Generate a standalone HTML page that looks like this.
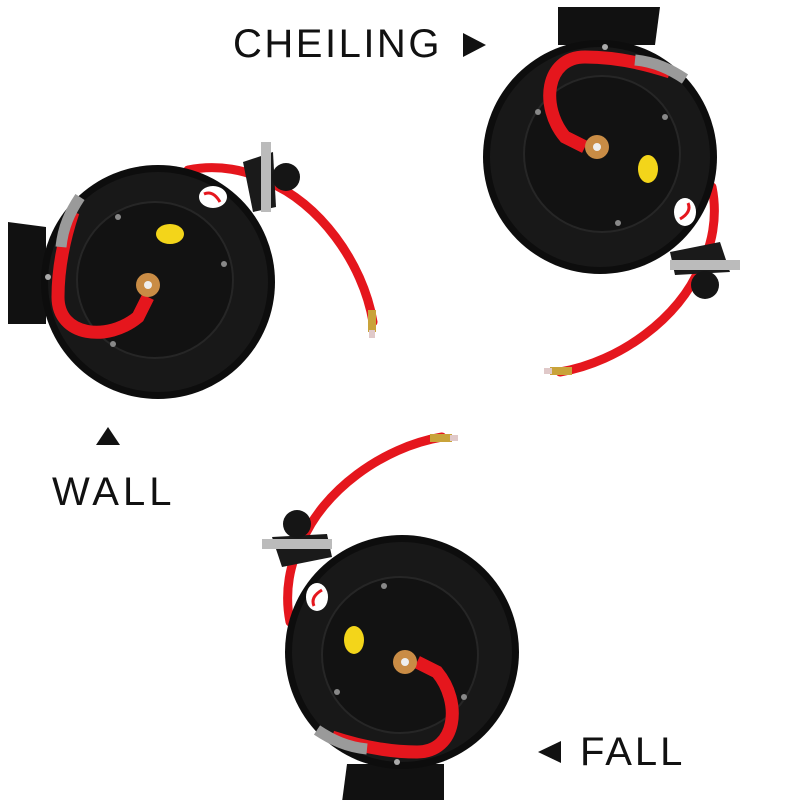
<!DOCTYPE html>
<html><head><style>
html,body{margin:0;padding:0;background:#fff;}
body{width:800px;height:800px;position:relative;overflow:hidden;font-family:"Liberation Sans",sans-serif;}
.t{position:absolute;color:#111;font-size:40px;letter-spacing:2.5px;}
</style></head><body>
<svg width="800" height="800" style="position:absolute;left:0;top:0">
<defs>
<g id="reel">
  <path d="M-150,-60 L-112,-55 L-112,42 L-150,42 Z" fill="#111"/>
  <path d="M30,-112 C60,-118 90,-112 110,-100 C160,-80 205,-20 215,40" fill="none" stroke="#e5161d" stroke-width="9" stroke-linecap="round"/>
  <path d="M85,-120 L115,-130 L118,-75 L95,-70 Z" fill="#1a1a1a"/>
  <rect x="103" y="-140" width="10" height="70" fill="#bbb"/>
  <circle cx="128" cy="-105" r="14" fill="#151515"/>
  <rect x="210" y="28" width="8" height="22" fill="#c9a33a"/>
  <rect x="211" y="48" width="6" height="8" fill="#e0c9c9"/>
  <circle cx="0" cy="0" r="117" fill="#0d0d0d"/>
  <circle cx="0" cy="0" r="110" fill="#181818"/>
  <circle cx="-3" cy="-2" r="78" fill="#121212" stroke="#262626" stroke-width="2"/>
  <path d="M-85,-70 C-95,-40 -100,-10 -100,15 C-100,55 -50,60 -20,35 L-10,15" fill="none" stroke="#e5161d" stroke-width="13"/>
  <path d="M-78,-85 C-88,-70 -95,-55 -97,-35" fill="none" stroke="#9a9a9a" stroke-width="11"/>
  <circle cx="-10" cy="3" r="12" fill="#c98c45"/>
  <circle cx="-10" cy="3" r="4" fill="#eee"/>
  <ellipse cx="12" cy="-48" rx="14" ry="10" fill="#f3d51a"/>
  <ellipse cx="55" cy="-85" rx="14" ry="11" fill="#fff"/>
  <path d="M46,-88 Q55,-92 62,-80" fill="none" stroke="#e5161d" stroke-width="3"/>
  <circle cx="-40" cy="-65" r="3" fill="#888"/>
  <circle cx="66" cy="-18" r="3" fill="#888"/>
  <circle cx="-45" cy="62" r="3" fill="#888"/>
  <circle cx="-110" cy="-5" r="3" fill="#aaa"/>
</g>
</defs>
<use href="#reel" transform="translate(158,282)"/>
<use href="#reel" transform="translate(600,157) rotate(90)"/>
<use href="#reel" transform="translate(402,652) rotate(-90)"/>
<polygon points="96,445 120,445 108,427" fill="#111"/>
<polygon points="463,33 463,57 486,45" fill="#111"/>
<polygon points="561,741 561,763 538,752" fill="#111"/>
</svg>
<div class="t" style="left:233px;top:22px;">CHEILING</div>
<div class="t" style="left:52px;top:470px;letter-spacing:4px;">WALL</div>
<div class="t" style="left:580px;top:730px;letter-spacing:3px;">FALL</div>
</body></html>
